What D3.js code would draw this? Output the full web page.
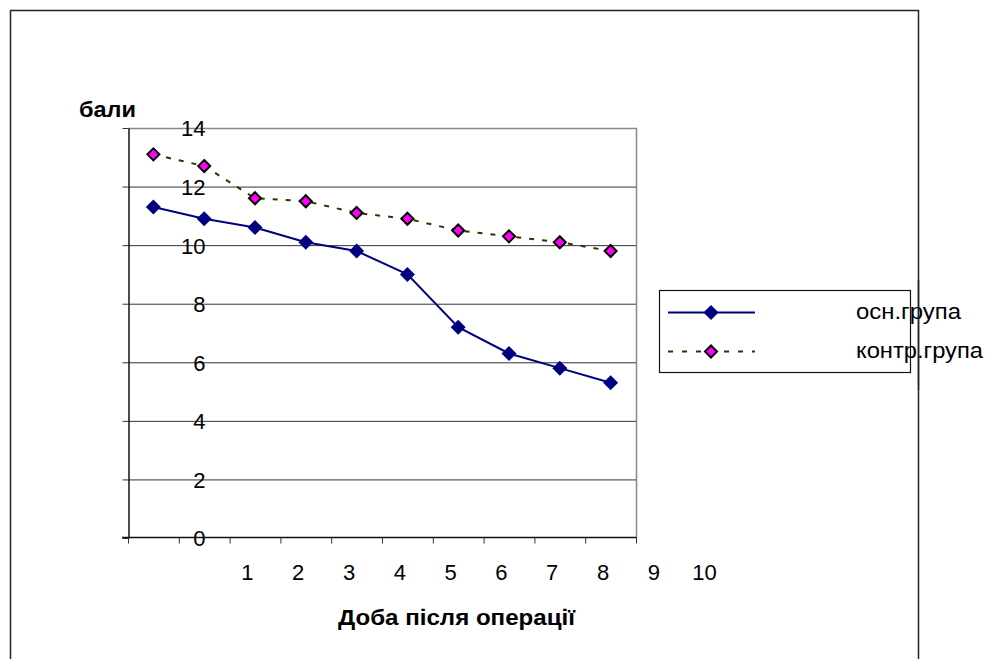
<!DOCTYPE html>
<html>
<head>
<meta charset="utf-8">
<script src="https://cdn.jsdelivr.net/npm/d3@7"></script>
<style>
  body { margin: 0; background: #fff; }
  text { font-family: Arial, "Liberation Sans", sans-serif; fill: #000; }
</style>
</head>
<body>
<div id="chart"></div>
<script>
// days after operation
const days = ['1', '2', '3', '4', '5', '6', '7', '8', '9', '10'];
const mainGroup = [11.3, 10.9, 10.6, 10.1, 9.8, 9.0, 7.2, 6.3, 5.8, 5.3];
const controlGroup = [13.1, 12.7, 11.6, 11.5, 11.1, 10.9, 10.5, 10.3, 10.1, 9.8];
const yTicks = [0, 2, 4, 6, 8, 10, 12, 14];
const seriesNames = ['осн.група', 'контр.група'];

const width = 986;
const height = 659;

const plot = {left: 128, top: 128, right: 636, bottom: 538};

let svg = d3.select('#chart').append('svg')
    .attr('width', width)
    .attr('height', height);

// outer chart border (bottom runs off the page)
svg.append('path')
    .attr('d', 'M10.5,' + height + 'V10.5H918.5V' + height)
    .attr('fill', 'none')
    .attr('stroke', '#222')
    .attr('stroke-width', 1.5);

let x = d3.scaleBand()
    .domain(days)
    .range([plot.left, plot.right]);

let y = d3.scaleLinear()
    .domain([0, 14])
    .range([plot.bottom, plot.top]);

// gridlines
svg.append('g')
    .selectAll('line')
    .data(yTicks.filter(d => d > 0 && d < 14))
    .enter().append('line')
    .attr('x1', plot.left)
    .attr('x2', plot.right)
    .attr('y1', d => y(d) + 0.5)
    .attr('y2', d => y(d) + 0.5)
    .attr('stroke', '#333')
    .attr('stroke-width', 1);

// plot frame: top + right grey
svg.append('path')
    .attr('d', 'M' + plot.left + ',' + (plot.top + 0.5) + 'H' + (plot.right + 0.5) + 'V' + plot.bottom)
    .attr('fill', 'none')
    .attr('stroke', '#888')
    .attr('stroke-width', 1.5);

// y axis
let yAxis = svg.append('g')
    .attr('transform', 'translate(' + (plot.left + 0.5) + ',0)')
    .call(d3.axisLeft(y).tickValues(yTicks).tickSize(6).tickSizeOuter(0).tickPadding(0));
yAxis.select('.domain').attr('stroke', '#111').attr('stroke-width', 1.5);
yAxis.selectAll('.tick line').attr('stroke', '#333');
yAxis.selectAll('.tick text')
    .attr('x', 77)
    .attr('dy', '0.36em')
    .attr('text-anchor', 'end')
    .style('font-size', '22px');

// x axis: ticks at band edges
let xAxis = svg.append('g')
    .attr('transform', 'translate(0,' + (plot.bottom - 0.5) + ')');
xAxis.append('line')
    .attr('x1', plot.left - 6)
    .attr('x2', plot.right + 0.5)
    .attr('stroke', '#111')
    .attr('stroke-width', 1.5);
xAxis.selectAll('.xtick')
    .data(days.map(d => x(d)).concat([x(days[days.length - 1]) + x.bandwidth()]))
    .enter().append('line')
    .attr('class', 'xtick')
    .attr('x1', d => d + 0.5)
    .attr('x2', d => d + 0.5)
    .attr('y1', 0)
    .attr('y2', 6)
    .attr('stroke', '#333');

// category labels sit shifted to the right of their bands
const labelShift = 94;
xAxis.selectAll('.xlabel')
    .data(days)
    .enter().append('text')
    .attr('class', 'xlabel')
    .attr('x', d => x(d) + x.bandwidth() / 2 + labelShift)
    .attr('y', 42)
    .attr('text-anchor', 'middle')
    .style('font-size', '22px')
    .text(d => d);

// axis titles
svg.append('text')
    .attr('x', 79)
    .attr('y', 117)
    .attr('textLength', 57)
    .attr('lengthAdjust', 'spacingAndGlyphs')
    .style('font-size', '22px')
    .style('font-weight', 'bold')
    .text('бали');

svg.append('text')
    .attr('x', 338)
    .attr('y', 625)
    .attr('textLength', 237)
    .attr('lengthAdjust', 'spacingAndGlyphs')
    .style('font-size', '22px')
    .style('font-weight', 'bold')
    .text('Доба після операції');

let cx = (d, i) => x(days[i]) + x.bandwidth() / 2;
let line = d3.line()
    .x(cx)
    .y(d => y(d));

let diamond = r => 'M0,' + (-r) + 'L' + r + ',0L0,' + r + 'L' + (-r) + ',0Z';

// control group
svg.append('path')
    .datum(controlGroup)
    .attr('d', line)
    .attr('fill', 'none')
    .attr('stroke', '#333300')
    .attr('stroke-width', 2)
    .attr('stroke-dasharray', '5,8');

// main group
svg.append('path')
    .datum(mainGroup)
    .attr('d', line)
    .attr('fill', 'none')
    .attr('stroke', '#000080')
    .attr('stroke-width', 2);

svg.append('g')
    .selectAll('path')
    .data(mainGroup)
    .enter().append('path')
    .attr('transform', (d, i) => 'translate(' + cx(d, i) + ',' + y(d) + ')')
    .attr('d', diamond(7.5))
    .attr('fill', '#000080');

svg.append('g')
    .selectAll('path')
    .data(controlGroup)
    .enter().append('path')
    .attr('transform', (d, i) => 'translate(' + cx(d, i) + ',' + y(d) + ')')
    .attr('d', diamond(6))
    .attr('fill', '#ff00ff')
    .attr('stroke', '#000')
    .attr('stroke-width', 2);

// legend
let legend = svg.append('g');
legend.append('rect')
    .attr('x', 659.5)
    .attr('y', 290.5)
    .attr('width', 251)
    .attr('height', 82)
    .attr('fill', 'none')
    .attr('stroke', '#111')
    .attr('stroke-width', 1.2);

legend.append('line')
    .attr('x1', 668).attr('x2', 755)
    .attr('y1', 312.5).attr('y2', 312.5)
    .attr('stroke', '#000080').attr('stroke-width', 2);
legend.append('path')
    .attr('transform', 'translate(711,312.5)')
    .attr('d', diamond(7.5))
    .attr('fill', '#000080');

legend.append('line')
    .attr('x1', 668).attr('x2', 755)
    .attr('y1', 351.5).attr('y2', 351.5)
    .attr('stroke', '#333300').attr('stroke-width', 2)
    .attr('stroke-dasharray', '5,9');
legend.append('path')
    .attr('transform', 'translate(711,351.5)')
    .attr('d', diamond(6))
    .attr('fill', '#ff00ff')
    .attr('stroke', '#000')
    .attr('stroke-width', 2);

const legendWidths = [105, 127];
legend.selectAll('.ltext')
    .data(seriesNames)
    .enter().append('text')
    .attr('class', 'ltext')
    .attr('x', 856)
    .attr('y', (d, i) => 319 + i * 39)
    .attr('textLength', (d, i) => legendWidths[i])
    .attr('lengthAdjust', 'spacingAndGlyphs')
    .style('font-size', '22px')
    .text(d => d);

// outer border crosses over the legend text
svg.append('line')
    .attr('x1', 918.5).attr('x2', 918.5)
    .attr('y1', 280).attr('y2', 390)
    .attr('stroke', '#222')
    .attr('stroke-width', 1.5);
</script>
</body>
</html>
